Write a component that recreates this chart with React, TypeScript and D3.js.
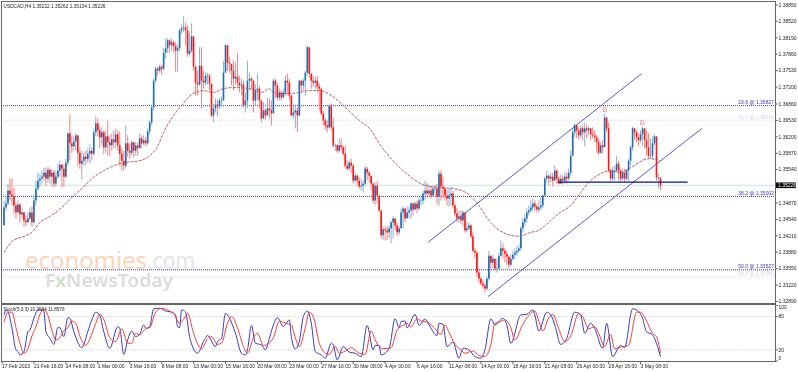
import React from "react";
import * as d3 from "d3";

// All price series are pips above 1.30000 (e.g. 522 = 1.3522)
const closes = [
478,486,512,504,500,482,468,484,464,468,
452,448,456,468,448,492,516,532,536,540,
548,536,554,540,548,526,540,552,564,556,
540,568,627,607,601,611,623,588,566,572,
580,576,586,592,586,629,647,633,619,629,
599,621,609,603,615,609,625,603,586,572,
562,607,592,588,609,592,603,597,617,607,
613,607,631,649,679,733,757,753,761,757,
789,798,814,804,810,802,793,798,834,838,
840,834,787,793,822,761,729,725,763,733,
729,743,743,727,663,677,685,681,693,693,
749,804,769,767,753,737,741,729,723,725,
683,693,733,737,733,693,713,717,693,657,
673,663,677,673,667,733,723,699,709,699,
709,733,729,703,663,669,673,663,733,723,
733,749,800,747,733,729,733,721,717,667,
653,643,639,683,639,603,603,592,603,599,
586,562,556,568,562,532,542,532,520,522,
526,556,548,542,526,492,522,502,472,422,
434,432,428,436,448,456,442,428,436,468,
476,456,468,472,486,474,486,476,492,492,
506,512,506,512,502,516,516,500,546,520,
516,502,496,502,506,482,466,456,460,452,
468,432,436,442,420,391,387,347,335,325,
321,315,335,381,367,375,355,355,381,396,
391,385,379,363,375,383,387,391,396,436,
448,456,468,472,478,486,480,474,478,482,
502,536,542,536,540,532,552,536,526,536,
532,540,536,548,582,629,643,633,623,637,
629,637,633,637,625,623,619,609,588,603,
599,659,637,552,536,552,552,566,552,536,
548,536,552,572,599,637,629,619,613,625,
637,613,599,582,582,607,621,538,538,522];

const highs = [
492,502,526,536,536,518,486,492,486,476,
470,462,468,478,480,502,532,548,546,552,
558,558,560,558,554,554,552,566,572,566,
564,576,629,665,623,621,627,621,597,592,
588,592,597,605,599,637,661,657,643,639,
633,633,653,623,627,633,637,633,631,597,
592,643,623,607,613,609,609,609,627,623,
623,619,637,653,683,737,761,761,765,765,
798,818,818,816,818,814,810,806,838,846,
862,850,844,830,848,810,763,753,800,800,
753,749,749,747,717,687,697,695,699,701,
773,806,804,781,765,773,769,789,743,737,
733,709,773,749,741,725,725,747,723,693,
689,677,699,697,693,737,737,729,717,713,
717,743,747,737,705,683,683,679,735,733,
737,753,804,800,747,743,741,743,729,713,
673,657,653,685,687,657,607,605,617,617,
603,603,572,572,576,566,548,544,540,536,
532,562,560,552,536,528,528,532,492,472,
440,440,440,442,452,460,456,448,442,476,
480,476,480,480,488,488,490,492,498,500,
512,532,528,524,520,522,524,526,552,552,
540,520,512,516,520,512,486,476,472,472,
472,452,448,448,444,428,396,391,355,339,
331,327,339,391,381,383,375,375,387,412,
406,396,391,381,383,391,396,400,404,440,
456,464,476,482,492,496,492,484,492,498,
504,540,552,544,548,548,562,556,540,544,
542,548,548,556,592,637,647,645,639,643,
643,649,645,641,637,639,633,623,617,609,
613,667,657,649,556,560,562,582,572,556,
556,556,556,576,603,641,637,633,627,633,
641,637,633,627,617,621,625,617,546,538];

const lows = [
442,472,482,492,482,466,456,468,448,456,
440,440,448,452,440,448,482,512,520,526,
532,522,528,526,520,518,520,536,540,518,
520,536,562,572,588,592,592,562,556,534,
562,562,568,566,572,582,621,621,597,603,
586,588,582,582,592,597,597,592,562,552,
552,556,580,576,582,578,582,582,599,597,
603,601,603,623,643,673,729,743,749,745,
753,777,789,789,793,789,751,751,793,826,
830,804,781,783,789,753,703,703,723,677,
717,723,725,713,659,649,669,661,677,681,
693,749,753,749,723,713,725,721,709,703,
679,669,677,713,717,669,683,693,677,649,
657,653,663,657,643,673,699,693,693,693,
699,703,705,693,661,657,637,629,661,709,
713,703,743,737,717,721,717,709,673,663,
643,633,629,637,633,599,592,588,588,592,
582,556,552,552,548,526,528,522,516,512,
508,522,532,528,512,486,482,486,468,416,
412,412,412,416,406,416,432,420,422,444,
436,448,456,456,456,462,472,466,472,482,
484,492,498,498,496,498,502,484,482,492,
496,492,482,480,482,476,460,448,448,444,
440,428,428,432,416,387,375,339,327,321,
315,307,311,331,351,355,351,347,355,379,
375,367,363,355,359,371,375,381,387,391,
428,440,448,462,468,472,472,468,468,472,
476,502,528,522,528,520,536,526,524,526,
524,526,526,532,542,582,619,617,615,617,
613,601,617,623,613,617,609,588,584,586,
586,607,629,548,530,532,532,548,532,530,
532,530,532,532,562,592,613,609,601,609,
603,597,582,576,576,576,603,532,516,512];

const firstOpen = 442;

const maBars = [0,4,10,14,18,23,29,35,40,44,50,55,60,68,73,77,80,85,89,94,100,105,110,115,123,129,133,135,140,148,153,158,164,170,178,184,188,195,203,210,218,225,233,238,243,250,258,264,268,273,278,284,289,293,299,304,309,314,323,329];
const maValues = [387,410,420,428,448,460,478,502,520,536,552,562,568,572,582,601,629,663,683,705,713,709,717,719,717,709,717,709,707,709,713,713,703,683,653,633,607,572,542,524,518,516,504,482,452,428,420,428,432,448,466,482,508,528,546,552,548,558,576,572];

const stochMainBars = [0,1,2,4,6,7,8,10,12,13,15,17,18,20,21,23,25,27,28,30,32,33,35,39,42,44,46,48,50,53,57,58,60,62,64,66,68,70,71,73,75,78,81,83,86,87,88,89,91,93,97,100,102,106,107,109,111,113,116,119,121,122,124,126,129,131,133,135,137,140,143,144,146,148,150,152,154,156,159,161,164,165,167,170,173,176,179,182,185,186,188,189,193,196,198,199,201,202,206,208,211,213,217,218,220,222,225,228,230,233,236,239,241,244,246,250,252,254,259,262,265,266,268,272,274,276,279,282,286,289,291,294,296,300,302,305,309,311,315,317,320,322,325,329];
const stochMainValues = [83,92,89,59,20,17,11,17,53,56,77,92,92,90,53,41,30,60,60,44,78,77,53,24,53,74,88,82,53,23,62,59,12,38,54,44,48,65,59,62,94,95,90,89,83,62,60,92,88,44,14,35,46,26,35,41,86,77,50,14,11,20,64,32,29,20,41,65,78,62,74,44,22,35,80,90,68,17,11,5,32,29,2,26,16,14,8,64,20,28,28,11,23,76,60,71,72,60,84,64,76,65,46,68,66,26,34,5,23,20,8,5,20,76,65,77,65,32,83,84,92,83,54,88,83,65,30,41,88,83,50,68,59,23,68,8,28,24,94,92,77,53,47,8];

const stochSignalBars = [0,2,4,6,8,10,12,14,16,18,20,22,24,26,28,30,32,34,36,38,41,43,46,48,50,53,56,59,62,64,66,68,71,73,76,79,83,85,88,90,92,95,99,102,104,107,109,112,114,117,120,122,125,127,130,132,135,138,141,144,146,148,151,153,155,158,161,163,166,168,171,174,178,181,184,186,188,190,194,197,199,202,204,207,209,212,215,219,221,223,226,229,231,235,238,241,244,246,248,251,254,256,260,263,266,268,270,273,275,278,281,284,288,290,293,296,298,301,304,306,310,313,317,319,322,325,327,329];
const stochSignalValues = [70,88,88,60,32,14,22,45,62,84,93,82,55,38,42,55,60,72,68,45,28,40,68,84,75,42,35,58,32,32,50,47,58,60,88,95,90,86,68,75,86,50,22,40,44,30,32,68,80,60,26,14,42,50,28,30,42,72,68,65,42,26,60,88,80,32,14,12,26,14,18,24,14,12,54,38,26,22,24,56,62,68,62,76,72,70,62,48,65,52,30,20,14,18,10,8,30,68,70,74,60,38,66,82,90,72,54,78,84,58,35,45,86,80,58,62,50,26,48,22,26,28,88,88,72,50,44,14];

const priceTicks = ["1.38850","1.38520","1.38190","1.37860","1.37530","1.37200","1.36860","1.36530","1.36200","1.35870","1.35540","1.34870","1.34540","1.34210","1.33880","1.33550","1.33220","1.32890"];
const timeLabels = ["17 Feb 2023","21 Feb 16:00","24 Feb 08:00","1 Mar 00:00","3 Mar 16:00","8 Mar 08:00","13 Mar 00:00","15 Mar 16:00","20 Mar 08:00","23 Mar 00:00","27 Mar 16:00","30 Mar 08:00","4 Apr 00:00","6 Apr 16:00","11 Apr 08:00","14 Apr 00:00","18 Apr 16:00","21 Apr 08:00","26 Apr 00:00","28 Apr 16:00","3 May 08:00"];
const barsPerTimeLabel = 16;

const fibPrices = [1.36827, 1.36536, 1.35002, 1.33527, 1.33385];
const fibLabels = ["23.6 @ 1.36827", "61.8 @ 1.36536", "38.2 @ 1.35002", "50.0 @ 1.33527", "59.9 @ 1.33385"];
const fibStrong = [true, false, true, true, false];

const channelUpperBars = [212.5, 319.5];
const channelUpperValues = [408, 747];
const channelLowerBars = [242.6, 349.7];
const channelLowerValues = [299, 637];
const necklineBars = [277.5, 342.6];
const necklineValue = 529;
const shoulderBars = [301, 320];
const shoulderValues = [675, 649];

const lastPrice = 1.35226;
const titleText = "USDCAD,H4  1.35222 1.35262 1.35134 1.35226";
const stochTitle = "Stoch(5,3,3) 10.3964 11.8578";
const stochLevels = [80, 20];
const stochAxis = [100, 80, 20, 0];

const WIDTH = 798, HEIGHT = 372;
const FONT = "'Liberation Sans', Arial, sans-serif";

const toPrice = (v: number) => 1.3 + v / 10000;
const x = d3.scaleLinear().domain([0, 329]).range([4, 660.5]);
const y = d3.scaleLinear().domain([1.3289, 1.3885]).range([301.5, 5]);
const ys = d3.scaleLinear().domain([0, 100]).range([361, 305.5]);

const pair = (bars: number[], vals: number[], f: (n: number) => number, curve: d3.CurveFactory = d3.curveLinear) => {
  const l = d3.line<number>().x((b) => x(b)).y((_, i) => f(vals[i])).curve(curve);
  return l(bars) || "";
};

export default function App() {
  const opens = [firstOpen, ...closes.slice(0, -1)];
  const maPath = pair(maBars, maValues, (v) => y(toPrice(v)), d3.curveMonotoneX);
  const mainPath = pair(stochMainBars, stochMainValues, ys, d3.curveMonotoneX);
  const signalPath = pair(stochSignalBars, stochSignalValues, ys, d3.curveMonotoneX);
  const lastY = y(lastPrice);
  return (
    <svg width={WIDTH} height={HEIGHT} viewBox={`0 0 ${WIDTH} ${HEIGHT}`} fontFamily={FONT}
      style={{ position: "absolute", left: 0, top: 0, background: "#fff" }}>
      <defs>
        <filter id="soft" x="-2%" y="-2%" width="104%" height="104%">
          <feGaussianBlur stdDeviation="0.3" />
        </filter>
      </defs>

      {/* watermark */}
      <g>
        <text x={25} y={269} fontFamily="'Noto Sans', sans-serif" fontSize={23} fill="#fbd5ba" textLength={122} lengthAdjust="spacingAndGlyphs">economies</text>
        <text x={147} y={269} fontFamily="'Noto Sans', sans-serif" fontSize={23} fill="#e4e4e4" textLength={48} lengthAdjust="spacingAndGlyphs">.com</text>
        <text x={45} y={287} fontFamily="'Noto Sans', sans-serif" fontSize={18} fontWeight={600} fill="#dcdcdc" textLength={128} lengthAdjust="spacingAndGlyphs">
          F<tspan fill="#c9dcc0">x</tspan>NewsToday
        </text>
      </g>

      <g filter="url(#soft)">
        {/* last price line */}
        <line x1={3} x2={775} y1={lastY} y2={lastY} stroke="#c9e3e3" strokeWidth={1} />

        {/* fib levels */}
        {fibPrices.map((p, i) => (
          <g key={i}>
            <line x1={3} x2={775} y1={y(p)} y2={y(p)} stroke={fibStrong[i] ? "#3a3aa8" : "#d8d8f6"} strokeWidth={1} strokeDasharray="1 1" />
            <text x={774} y={y(p) - 1.5} fontSize={5} textAnchor="end" fill={fibStrong[i] ? "#3c3cb0" : "#d4d4f2"}>{fibLabels[i]}</text>
          </g>
        ))}

        {/* candles */}
        {closes.map((c, i) => {
          const o = opens[i];
          const up = c >= o;
          const bx = x(i);
          const top = y(toPrice(Math.max(o, c)));
          const bot = y(toPrice(Math.min(o, c)));
          return (
            <g key={i}>
              <line x1={bx} x2={bx} y1={y(toPrice(highs[i]))} y2={y(toPrice(lows[i]))} stroke={up ? "#7fa8cc" : "#ff6f6f"} strokeWidth={0.9} />
              <rect x={bx - 0.8} y={top} width={1.6} height={Math.max(bot - top, 0.6)} fill={up ? "#1b6bb0" : "#ff1414"} />
            </g>
          );
        })}

        {/* moving average */}
        <path d={maPath} fill="none" stroke="#ab5050" strokeWidth={0.9} strokeDasharray="3 1.2" />

        {/* channels */}
        <path d={pair(channelUpperBars, channelUpperValues, (v) => y(toPrice(v)))} fill="none" stroke="#4a4ac0" strokeWidth={0.9} />
        <path d={pair(channelLowerBars, channelLowerValues, (v) => y(toPrice(v)))} fill="none" stroke="#4a4ac0" strokeWidth={0.9} />
        <line x1={x(necklineBars[0])} x2={x(necklineBars[1])} y1={y(toPrice(necklineValue))} y2={y(toPrice(necklineValue))} stroke="#10107a" strokeWidth={1.4} />

        {shoulderBars.map((b, i) => (
          <text key={i} x={x(b)} y={y(toPrice(shoulderValues[i])) + 3} fontSize={8} textAnchor="middle" fill="#f28a8a">B</text>
        ))}

        {/* stochastic */}
        {stochLevels.map((l) => (
          <line key={l} x1={3} x2={775} y1={ys(l)} y2={ys(l)} stroke="#c8c8c8" strokeWidth={0.8} strokeDasharray="1.5 1.5" />
        ))}
        <path d={mainPath} fill="none" stroke="#3a3ab8" strokeWidth={1} />
        <path d={signalPath} fill="none" stroke="#f23c3c" strokeWidth={1} />
      </g>

      {/* frame */}
      <g stroke="#666" fill="none">
        <line x1={1.5} x2={1.5} y1={1} y2={361.5} strokeWidth={1} />
        <line x1={1} x2={776} y1={1.5} y2={1.5} strokeWidth={1} />
        <line x1={775.5} x2={775.5} y1={1} y2={361.5} strokeWidth={1} />
        <line x1={1} x2={776} y1={304} y2={304} strokeWidth={2} />
        <line x1={1} x2={776} y1={361.5} y2={361.5} strokeWidth={1} />
      </g>

      {/* price axis */}
      <g filter="url(#soft)">
        {priceTicks.map((t) => (
          <g key={t}>
            <line x1={776} x2={778} y1={y(+t)} y2={y(+t)} stroke="#444" strokeWidth={0.8} />
            <text x={778.5} y={y(+t) + 1.8} fontSize={5} fill="#222">{t}</text>
          </g>
        ))}
        {stochAxis.map((t) => (
          <g key={t}>
            <line x1={776} x2={778} y1={ys(t)} y2={ys(t)} stroke="#444" strokeWidth={0.8} />
            <text x={778.5} y={Math.min(Math.max(ys(t), 307.5), 358) + 1.8} fontSize={5} fill="#222">{t}</text>
          </g>
        ))}
        {timeLabels.map((t, i) => {
          const tx = x(i * barsPerTimeLabel) - 2;
          return (
            <g key={t}>
              <line x1={tx} x2={tx} y1={361.5} y2={364} stroke="#444" strokeWidth={0.8} />
              <text x={tx} y={368} fontSize={5} fill="#222">{t}</text>
            </g>
          );
        })}
        <text x={3.5} y={7.5} fontSize={5} fill="#222" textLength={102} lengthAdjust="spacingAndGlyphs">{titleText}</text>
        <text x={3.5} y={311} fontSize={5} fill="#222" textLength={61} lengthAdjust="spacingAndGlyphs">{stochTitle}</text>
      </g>
      <rect x={776} y={lastY - 2.8} width={20} height={5.6} fill="#000" />
      <text x={778} y={lastY + 1.8} fontSize={5} fill="#fff">{lastPrice.toFixed(5)}</text>
    </svg>
  );
}
